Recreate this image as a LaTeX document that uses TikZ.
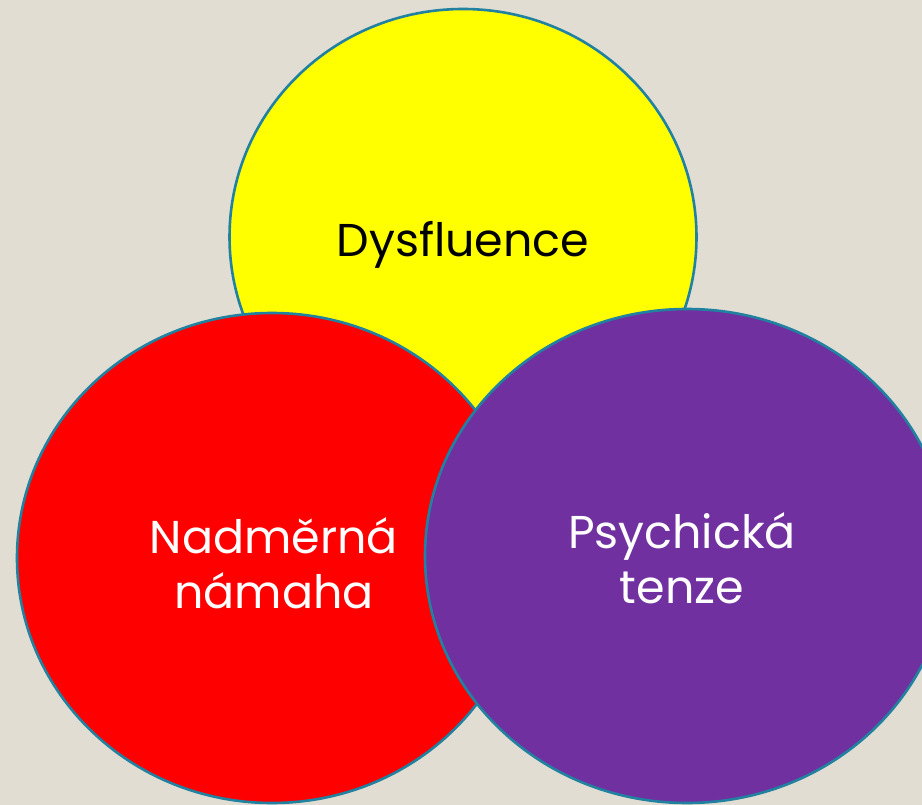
\documentclass[tikz,border=0pt]{standalone}
\usepackage{fontspec}
\setmainfont{Poppins}
\definecolor{bgc}{HTML}{E2DDD2}
\definecolor{edgec}{HTML}{2181A0}
\definecolor{yel}{HTML}{FFFF00}
\definecolor{redc}{HTML}{FF0000}
\definecolor{purc}{HTML}{7030A0}
\tikzset{
  blob/.style={draw=edgec, line width=2.6pt},
  lbl/.style={font=\fontsize{46}{55}\selectfont, align=center, inner sep=0pt}
}
\begin{document}
\begin{tikzpicture}[x=1pt,y=-1pt]
\fill[bgc] (0,0) rectangle (922,805);
\useasboundingbox (0,0) rectangle (922,805);
\path[blob, fill=yel] (463,237) ellipse [x radius=233.5, y radius=228];
\path[blob, fill=redc] (272,558) ellipse [x radius=255, y radius=245];
\path[blob, fill=purc] (687,556) ellipse [x radius=262, y radius=247];
\node[lbl, text=black, anchor=base] (dys) at (463,257) {Dysfluence};
\node[lbl, text=white, anchor=base] (nad1) at (274,553) {Nadměrná};
\node[lbl, text=white, anchor=base] (nad2) at (274,608) {námaha};
\node[lbl, text=white, anchor=base] (psy1) at (682,548) {Psychická};
\node[lbl, text=white, anchor=base] (psy2) at (682,603) {tenze};
\end{tikzpicture}
\end{document}
